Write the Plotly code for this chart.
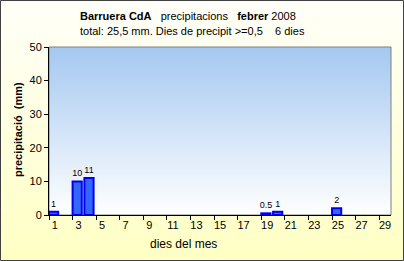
import base64
import plotly.graph_objects as go

days = list(range(1, 30))
rain = [1, 0, 10, 11, 0, 0, 0, 0, 0, 0, 0, 0, 0, 0, 0, 0, 0, 0, 0.5, 1, 0, 0, 0, 0, 2, 0, 0, 0, 0]
labels = ["" if v == 0 else (str(v) if v != int(v) else str(int(v))) for v in rain]
bar_y = [v if v > 0 else None for v in rain]
xtick_vals = list(range(1, 30, 2))
ytick_vals = [0, 10, 20, 30, 40, 50]

W, H = 404, 261
ML, MR, MT, MB = 49, 13, 47, 46
PW, PH = W - ML - MR, H - MT - MB

def grad_uri(top, bottom):
    svg = ('<svg xmlns="http://www.w3.org/2000/svg" width="100" height="100" preserveAspectRatio="none">'
           '<defs><linearGradient id="g" x1="0" y1="0" x2="0" y2="1">'
           f'<stop offset="0" stop-color="{top}"/><stop offset="1" stop-color="{bottom}"/>'
           '</linearGradient></defs><rect width="100" height="100" fill="url(#g)"/></svg>')
    return "data:image/svg+xml;base64," + base64.b64encode(svg.encode()).decode()

FONT = "Arial, Liberation Sans, sans-serif"

fig = go.Figure()
fig.add_trace(go.Bar(
    x=days, y=bar_y, text=labels, textposition="outside", constraintext="none",
    textfont=dict(size=9, color="black", family=FONT),
    cliponaxis=False,
    width=0.78, offset=-0.5,
    marker=dict(color="#3366FF", line=dict(color="#0000EE", width=2)),
    hoverinfo="x+y",
))

fx0 = -ML / PW
fy0 = -MB / PH
fig.update_layout(
    width=W, height=H,
    margin=dict(l=ML, r=MR, t=MT, b=MB),
    paper_bgcolor="#FFFFE0",
    plot_bgcolor="rgba(0,0,0,0)",
    showlegend=False,
    font=dict(family=FONT, size=11, color="black"),
    bargap=0.2,
    uniformtext=dict(minsize=9, mode="show"),
    images=[
        dict(source=grad_uri("#FFFFFA", "#FFFFC4"), xref="paper", yref="paper",
             x=fx0, y=fy0 + H / PH, sizex=W / PW, sizey=H / PH,
             xanchor="left", yanchor="top", sizing="stretch", layer="below"),
        dict(source=grad_uri("#A4C8F0", "#FFFFFF"), xref="paper", yref="paper",
             x=0, y=1, sizex=1, sizey=1,
             xanchor="left", yanchor="top", sizing="stretch", layer="below"),
    ],
    shapes=[
        dict(type="rect", xref="paper", yref="paper", x0=0, x1=1, y0=0, y1=1,
             line=dict(color="#808080", width=1), layer="below"),
        dict(type="rect", xref="paper", yref="paper",
             x0=fx0 + 0.5 / PW, x1=fx0 + (W - 0.5) / PW,
             y0=fy0 + 0.5 / PH, y1=fy0 + (H - 0.5) / PH,
             line=dict(color="#404040", width=1), layer="above"),
    ],
    xaxis=dict(
        range=[0.5, 29.5], tickvals=xtick_vals, ticktext=[str(v) for v in xtick_vals],
        ticks="", showgrid=False, zeroline=False, showline=True, linecolor="black", linewidth=1,
        tickfont=dict(size=11), fixedrange=True,
        minor=dict(tickvals=[v + 0.5 for v in range(0, 29, 2)], ticks="outside", ticklen=4,
                   tickcolor="black", showgrid=False),
    ),
    yaxis=dict(
        range=[0, 50], tickvals=ytick_vals, ticks="outside", ticklen=4, tickcolor="black",
        showgrid=False, zeroline=False, showline=True, linecolor="black", linewidth=1,
        tickfont=dict(size=11), fixedrange=True,
    ),
    annotations=[
        dict(xref="paper", yref="paper", x=(78 - ML) / PW, y=1 + (MT - 16) / PH,
             xanchor="left", yanchor="middle", showarrow=False,
             text="<b>Barruera CdA</b>   precipitacions   <b>febrer</b> 2008",
             font=dict(size=11)),
        dict(xref="paper", yref="paper", x=(78 - ML) / PW, y=1 + (MT - 31) / PH,
             xanchor="left", yanchor="middle", showarrow=False,
             text="total: 25,5 mm. Dies de precipit >=0,5    6 dies",
             font=dict(size=11)),
        dict(xref="paper", yref="paper", x=(18 - ML) / PW, y=(H - MB - 130) / PH,
             xanchor="center", yanchor="middle", showarrow=False, textangle=-90,
             text="<b>precipitació  (mm)</b>", font=dict(size=11)),
        dict(xref="paper", yref="paper", x=(148 - ML) / PW, y=-(244 - MT - PH) / PH,
             xanchor="left", yanchor="middle", showarrow=False,
             text="dies del mes", font=dict(size=12)),
    ],
)

fig.write_html("out.html")
